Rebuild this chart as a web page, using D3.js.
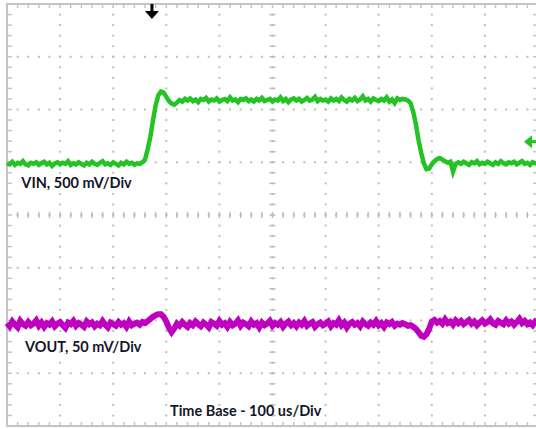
<!DOCTYPE html>
<html lang="en">
<head>
    <meta charset="UTF-8">
    <title>VIN / VOUT scope capture</title>
    <script src="https://d3js.org/d3.v7.min.js"></script>
    <style>
        body { margin: 0; background: #fff; }
        svg { display: block; }
        .lbl {
            font-family: Lato, "Open Sans", sans-serif;
            font-weight: 700;
            font-size: 14.5px;
            fill: #16162a;
        }
    </style>
</head>
<body>
<div id="chart"></div>
<script>
// time axis: 10 div x 100 us, one sample every 5 us
const timeUs = d3.range(0, 1001, 5);

// VIN trace in divisions from screen centre (500 mV/div)
const vinDiv = [
    0.98, 0.96, 1.01, 0.95, 0.99, 0.97, 1.02, 0.96, 0.94, 0.99,
    0.97, 1.00, 0.95, 0.98, 1.01, 0.96, 0.99, 0.93, 0.98, 1.00,
    0.96, 0.99, 0.97, 1.02, 0.95, 0.98, 0.96, 1.00, 0.97, 0.94,
    0.99, 0.96, 1.01, 0.97, 0.95, 0.99, 1.02, 0.96, 0.98, 0.95,
    1.00, 0.97, 0.94, 0.99, 0.96, 1.01, 0.97, 0.99, 0.95, 0.98,
    0.97, 1.00, 1.05, 1.25, 1.48, 1.80, 2.08, 2.27, 2.34, 2.32,
    2.24, 2.16, 2.11, 2.09, 2.13, 2.18, 2.15, 2.20, 2.17, 2.21,
    2.16, 2.19, 2.14, 2.20, 2.18, 2.22, 2.15, 2.19, 2.17, 2.21,
    2.15, 2.18, 2.20, 2.16, 2.23, 2.17, 2.19, 2.14, 2.20, 2.18,
    2.21, 2.16, 2.19, 2.15, 2.20, 2.17, 2.22, 2.16, 2.18, 2.20,
    2.15, 2.19, 2.17, 2.23, 2.16, 2.20, 2.14, 2.19, 2.21, 2.17,
    2.20, 2.15, 2.18, 2.22, 2.17, 2.19, 2.24, 2.16, 2.20, 2.17,
    2.19, 2.15, 2.21, 2.17, 2.20, 2.16, 2.23, 2.18, 2.15, 2.20,
    2.17, 2.22, 2.16, 2.19, 2.25, 2.17, 2.20, 2.15, 2.21, 2.18,
    2.16, 2.20, 2.17, 2.23, 2.15, 2.19, 2.12, 2.21, 2.18, 2.20,
    2.19, 2.17, 2.12, 1.96, 1.72, 1.42, 1.18, 0.98, 0.87, 0.88,
    0.96, 1.02, 1.06, 1.08, 1.05, 1.02, 0.99, 1.01, 0.82, 0.97,
    1.00, 0.97, 1.01, 0.98, 0.95, 1.00, 0.98, 1.02, 0.96, 0.99,
    0.97, 1.01, 0.98, 0.95, 1.00, 0.97, 1.02, 0.98, 0.96, 1.00,
    0.98, 1.01, 0.96, 0.99, 1.02, 0.97, 0.99, 0.95, 1.00, 0.98,
    0.97
];

// VOUT trace in divisions from screen centre (50 mV/div)
const voutDiv = [
    -2.05, -2.11, -2.02, -2.08, -2.13, -2.01, -2.07, -2.10, -2.03, -2.09,
    -2.06, -2.00, -2.10, -2.04, -2.12, -2.05, -2.08, -2.02, -2.11, -2.06,
    -2.03, -2.09, -2.14, -2.04, -2.07, -2.01, -2.10, -2.05, -2.08, -2.12,
    -2.02, -2.07, -2.04, -2.11, -2.06, -2.09, -2.01, -2.08, -2.13, -2.04,
    -2.07, -2.10, -2.03, -2.08, -2.05, -2.12, -2.02, -2.09, -2.06, -2.04,
    -2.08, -2.03, -2.05, -2.01, -1.97, -1.93, -1.90, -1.88, -1.88, -1.93,
    -2.02, -2.14, -2.22, -2.15, -2.06, -2.10, -2.03, -2.08, -2.12, -2.05,
    -2.09, -2.02, -2.07, -2.11, -2.04, -2.08, -2.13, -2.03, -2.06, -2.10,
    -2.01, -2.08, -2.05, -2.12, -2.03, -2.09, -2.06, -2.00, -2.10, -2.04,
    -2.07, -2.11, -2.02, -2.08, -2.05, -2.13, -2.04, -2.09, -2.06, -2.01,
    -2.10, -2.05, -2.08, -2.03, -2.12, -2.06, -2.02, -2.09, -2.05, -2.11,
    -2.04, -2.08, -2.01, -2.10, -2.06, -2.03, -2.12, -2.07, -2.04, -2.09,
    -2.06, -2.02, -2.11, -2.05, -2.08, -2.00, -2.09, -2.04, -2.13, -2.06,
    -2.03, -2.08, -2.05, -2.11, -2.02, -2.07, -2.10, -2.04, -2.08, -2.01,
    -2.09, -2.05, -2.12, -2.04, -2.07, -2.03, -2.10, -2.06, -2.08, -2.05,
    -2.07, -2.10, -2.09, -2.12, -2.16, -2.22, -2.29, -2.31, -2.26, -2.16,
    -2.02, -1.99, -2.04, -2.01, -2.06, -1.98, -2.05, -2.02, -2.08, -2.00,
    -2.05, -2.01, -2.07, -2.03, -1.99, -2.06, -2.02, -2.09, -2.04, -2.00,
    -2.06, -2.03, -1.98, -2.05, -2.08, -2.01, -2.04, -2.07, -2.00, -2.06,
    -2.02, -2.08, -2.03, -1.97, -2.05, -2.01, -2.07, -2.04, -2.09, -2.02,
    -2.05
];

const triggerTimeUs = 273;
const triggerLevelDiv = 1.39;

const labels = [
    { text: "VIN, 500 mV/Div", t: 27, v: 0.51 },
    { text: "VOUT, 50 mV/Div", t: 34, v: -2.6 },
    { text: "Time Base - 100 us/Div", t: 307, v: -3.81 }
];

const W = 536, H = 429;
const svg = d3.select("#chart").append("svg")
    .attr("width", W)
    .attr("height", H);

const x = d3.scaleLinear().domain([0, 1000]).range([7, 538]);
const y = d3.scaleLinear().domain([-4, 4]).range([426, 4]);

const gridCol = "#bdbdbd";
const minorX = d3.range(0, 1001, 20);
const minorY = d3.range(-4, 4.001, 0.2);
const majorX = d3.range(100, 1000, 100);
const majorY = d3.range(-3, 4, 1);

// dotted grid lines
const grid = svg.append("g");
majorY.forEach(v => {
    grid.selectAll(null).data(minorX).enter().append("rect")
        .attr("x", d => x(d) - 1).attr("y", y(v) - 1)
        .attr("width", 2).attr("height", 2)
        .attr("fill", gridCol);
});
majorX.forEach(t => {
    grid.selectAll(null).data(minorY).enter().append("rect")
        .attr("x", x(t) - 1).attr("y", d => y(d) - 1)
        .attr("width", 2).attr("height", 2)
        .attr("fill", gridCol);
});

// centre axes ticks
grid.selectAll(null).data(minorY).enter().append("line")
    .attr("x1", x(500) - 3).attr("x2", x(500) + 3)
    .attr("y1", d => y(d)).attr("y2", d => y(d))
    .attr("stroke", gridCol).attr("stroke-width", 1.5);
grid.selectAll(null).data(minorX).enter().append("line")
    .attr("x1", d => x(d)).attr("x2", d => x(d))
    .attr("y1", y(0) - 3).attr("y2", y(0) + 3)
    .attr("stroke", gridCol).attr("stroke-width", 1.5);

// frame with inner ticks
const frame = svg.append("g").attr("stroke", "#c4c4c4");
frame.append("rect")
    .attr("x", x(0)).attr("y", y(4))
    .attr("width", x(1000) - x(0)).attr("height", y(-4) - y(4))
    .attr("fill", "none").attr("stroke-width", 2);
frame.selectAll(null).data(minorX).enter().append("line")
    .attr("x1", d => x(d)).attr("x2", d => x(d))
    .attr("y1", y(4)).attr("y2", y(4) + 4).attr("stroke-width", 1.5);
frame.selectAll(null).data(minorX).enter().append("line")
    .attr("x1", d => x(d)).attr("x2", d => x(d))
    .attr("y1", y(-4)).attr("y2", y(-4) - 4).attr("stroke-width", 1.5);
frame.selectAll(null).data(minorY).enter().append("line")
    .attr("x1", x(0)).attr("x2", x(0) + 5)
    .attr("y1", d => y(d)).attr("y2", d => y(d)).attr("stroke-width", 1.5);
frame.selectAll(null).data(minorY).enter().append("line")
    .attr("x1", x(1000)).attr("x2", x(1000) - 5)
    .attr("y1", d => y(d)).attr("y2", d => y(d)).attr("stroke-width", 1.5);

// traces
const line = d3.line()
    .x((d, i) => x(timeUs[i]))
    .y(d => y(d));

svg.append("path")
    .datum(voutDiv)
    .attr("fill", "none")
    .attr("stroke", "#c000c0")
    .attr("stroke-width", 6)
    .attr("d", line);

svg.append("path")
    .datum(vinDiv)
    .attr("fill", "none")
    .attr("stroke", "#22c322")
    .attr("stroke-width", 4.5)
    .attr("d", line);

// trigger position marker (top)
const tx = x(triggerTimeUs);
svg.append("rect")
    .attr("x", tx - 1.5).attr("y", y(4))
    .attr("width", 3).attr("height", 9)
    .attr("fill", "#000");
svg.append("path")
    .attr("d", `M${tx - 7},${y(4) + 7} L${tx + 7},${y(4) + 7} L${tx},${y(4) + 15} Z`)
    .attr("fill", "#000");

// trigger level marker (right)
const ty = y(triggerLevelDiv);
svg.append("path")
    .attr("d", `M524,${ty} L532,${ty - 6.5} L532,${ty + 6.5} Z`)
    .attr("fill", "#22c322");
svg.append("rect")
    .attr("x", 531).attr("y", ty - 1.5)
    .attr("width", 8).attr("height", 3)
    .attr("fill", "#22c322");

// labels
svg.selectAll(".lbl").data(labels).enter().append("text")
    .attr("class", "lbl")
    .attr("x", d => x(d.t))
    .attr("y", d => y(d.v))
    .text(d => d.text);
</script>
</body>
</html>
